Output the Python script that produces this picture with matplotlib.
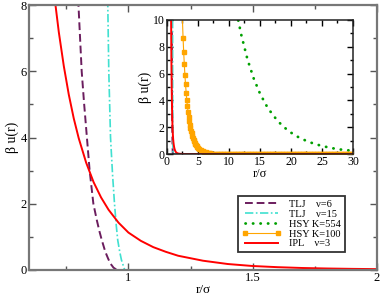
import numpy as np
import matplotlib
matplotlib.use('Agg')
import matplotlib.pyplot as plt
from matplotlib.ticker import MultipleLocator

plt.rcParams['font.family'] = ['Liberation Serif', 'DejaVu Serif']

# IPL nu=3
r_ipl = [0.66, 0.68, 0.70, 0.72, 0.74, 0.76, 0.78, 0.80, 0.83, 0.86, 0.89, 0.92, 0.96,
         1.0, 1.05, 1.1, 1.15, 1.2, 1.3, 1.4, 1.5, 1.6, 1.7, 1.8, 1.9, 2.0, 2.5, 3.0, 5.0, 30.0]
u_ipl = [11.7, 9.9, 8.4, 7.18, 6.16, 5.30, 4.58, 3.98, 3.24, 2.65, 2.19, 1.82, 1.43,
         1.13, 0.88, 0.69, 0.55, 0.43, 0.28, 0.18, 0.12, 0.085, 0.06, 0.045, 0.034, 0.026,
         0.008, 0.003, 0.0, 0.0]

# TLJ nu=6
r_tlj6 = [0.79, 0.799, 0.812, 0.822, 0.833, 0.844, 0.859, 0.873, 0.884, 0.893, 0.907,
          0.918, 0.927, 0.940, 0.954, 30.0]
u_tlj6 = [10.0, 8.0, 6.0, 5.0, 4.0, 3.0, 2.0, 1.5, 1.15, 0.9, 0.55, 0.35, 0.2, 0.07, 0.0, 0.0]

# TLJ nu=15
r_tlj15 = [0.914, 0.917, 0.921, 0.928, 0.936, 0.944, 0.951, 0.957, 0.965, 0.972, 0.985, 30.0]
u_tlj15 = [10.0, 8.0, 6.0, 4.0, 2.9, 2.0, 1.35, 0.9, 0.55, 0.3, 0.0, 0.0]

# HSY K=554
r_k554 = [11.5, 12, 13, 14, 15, 16, 17, 18, 19, 20, 21, 22, 23, 24, 25, 26, 27, 28, 29, 30]
u_k554 = [9.97, 8.87, 7.04, 5.63, 4.52, 3.65, 2.96, 2.40, 1.96, 1.60, 1.31, 1.08,
          0.89, 0.73, 0.61, 0.50, 0.41, 0.34, 0.29, 0.24]

# HSY K=100
r_k100 = [2.4, 2.6, 2.7, 2.8, 2.9, 3.0, 3.1, 3.2, 3.3, 3.4, 3.5, 3.6, 3.7, 3.8, 3.9,
          4.0, 4.1, 4.2, 4.3, 4.4, 4.5, 4.6, 4.7, 4.8, 4.9, 5.0, 5.25, 5.5, 5.75, 6.0,
          6.25, 6.5, 6.75, 7.0, 7.25, 7.5, 7.75] + list(np.arange(8, 30.01, 0.25))
u_k100 = [11.3, 8.69, 7.62, 6.70, 5.89, 5.19, 4.58, 4.04, 3.57, 3.16, 2.80, 2.48, 2.19,
          1.95, 1.73, 1.54, 1.37, 1.21, 1.08, 0.96, 0.86, 0.76, 0.68, 0.61, 0.54, 0.48,
          0.37, 0.28, 0.21, 0.16, 0.12, 0.09, 0.07, 0.05, 0.04, 0.03, 0.025] \
         + [0.02, 0.015, 0.01, 0.01, 0.008, 0.005, 0.004, 0.003] + [0.0] * 81

c_tlj6 = '#6b1d5e'
c_tlj15 = '#40e0d0'
c_k554 = '#00a000'
c_k100 = '#ffa500'
c_ipl = '#ff0000'

fig = plt.figure(figsize=(3.82, 2.98), dpi=100)
ax = fig.add_axes([0.0759, 0.094, 0.911, 0.889])

ax.plot(r_tlj6, u_tlj6, color=c_tlj6, lw=1.4, ls=(0, (4, 2)), label='TLJ    \u03bd=6')
ax.plot(r_tlj15, u_tlj15, color=c_tlj15, lw=1.2, ls=(0, (5, 1.5, 1, 1.5)), label='TLJ    \u03bd=15')
ax.plot([], [], color=c_k554, lw=2, ls=(0, (0.1, 2.6)), dash_capstyle='round', label='HSY K=554')
ax.plot([], [], color=c_k100, lw=0.8, marker='s', ms=2.5, label='HSY K=100')
ax.plot(r_ipl, u_ipl, color=c_ipl, lw=1.4, label='IPL    \u03bd=3')

ax.set_xlim(0.6, 2)
ax.set_ylim(0, 8)
ax.xaxis.set_minor_locator(MultipleLocator(0.25))
ax.yaxis.set_major_locator(MultipleLocator(2))
ax.yaxis.set_minor_locator(MultipleLocator(1))
ax.set_xticks([1, 1.5, 2])
ax.set_xticklabels(['1', '1.5', '2'])
ax.tick_params(which='both', direction='in', top=True, right=True, labelsize=9,
               color='#555555', pad=1.5)
ax.tick_params(which='major', length=5, width=1)
ax.tick_params(which='minor', length=3, width=1)
for s in ax.spines.values():
    s.set_color('#777777')
    s.set_linewidth(1.6)
ax.set_xlabel('r/\u03c3', fontsize=9.5, labelpad=0)
ax.set_ylabel('\u03b2 u(r)', fontsize=10, labelpad=1)

leg = ax.legend(loc='lower right', bbox_to_anchor=(0.908, 0.068), fontsize=7.5,
                frameon=True, fancybox=False, handlelength=3.8, handletextpad=0.8,
                labelspacing=0.05, borderpad=0.35, borderaxespad=0, numpoints=2)
leg.get_frame().set_edgecolor('black')
leg.get_frame().set_linewidth(1.3)

# inset
ins = fig.add_axes([0.437, 0.483, 0.487, 0.450])
ins.plot(r_tlj6, u_tlj6, color=c_tlj6, lw=1.4, ls=(0, (4, 2)))
ins.plot(r_tlj15, u_tlj15, color=c_tlj15, lw=1.2, ls=(0, (5, 1.5, 1, 1.5)))
ins.plot(r_k554, u_k554, color=c_k554, lw=2, ls=(0, (0.1, 2.6)), dash_capstyle='round')
ins.plot(r_k100, u_k100, color=c_k100, lw=0.8, marker='s', ms=2.6, mec=c_k100)
ins.plot(r_ipl, u_ipl, color=c_ipl, lw=1.4)
ins.set_xlim(0, 30)
ins.set_ylim(0, 10)
ins.xaxis.set_major_locator(MultipleLocator(5))
ins.xaxis.set_minor_locator(MultipleLocator(2.5))
ins.yaxis.set_major_locator(MultipleLocator(2))
ins.yaxis.set_minor_locator(MultipleLocator(1))
ins.tick_params(which='both', direction='in', top=True, right=True, labelsize=8.5, pad=1.5)
ins.tick_params(which='major', length=4, width=1)
ins.tick_params(which='minor', length=2.5, width=1)
for s in ins.spines.values():
    s.set_color('#222222')
    s.set_linewidth(1.1)
ins.set_xlabel('r/\u03c3', fontsize=9, labelpad=0)
ins.set_ylabel('\u03b2 u(r)', fontsize=10, labelpad=1)

fig.savefig('out.png', dpi=100)
